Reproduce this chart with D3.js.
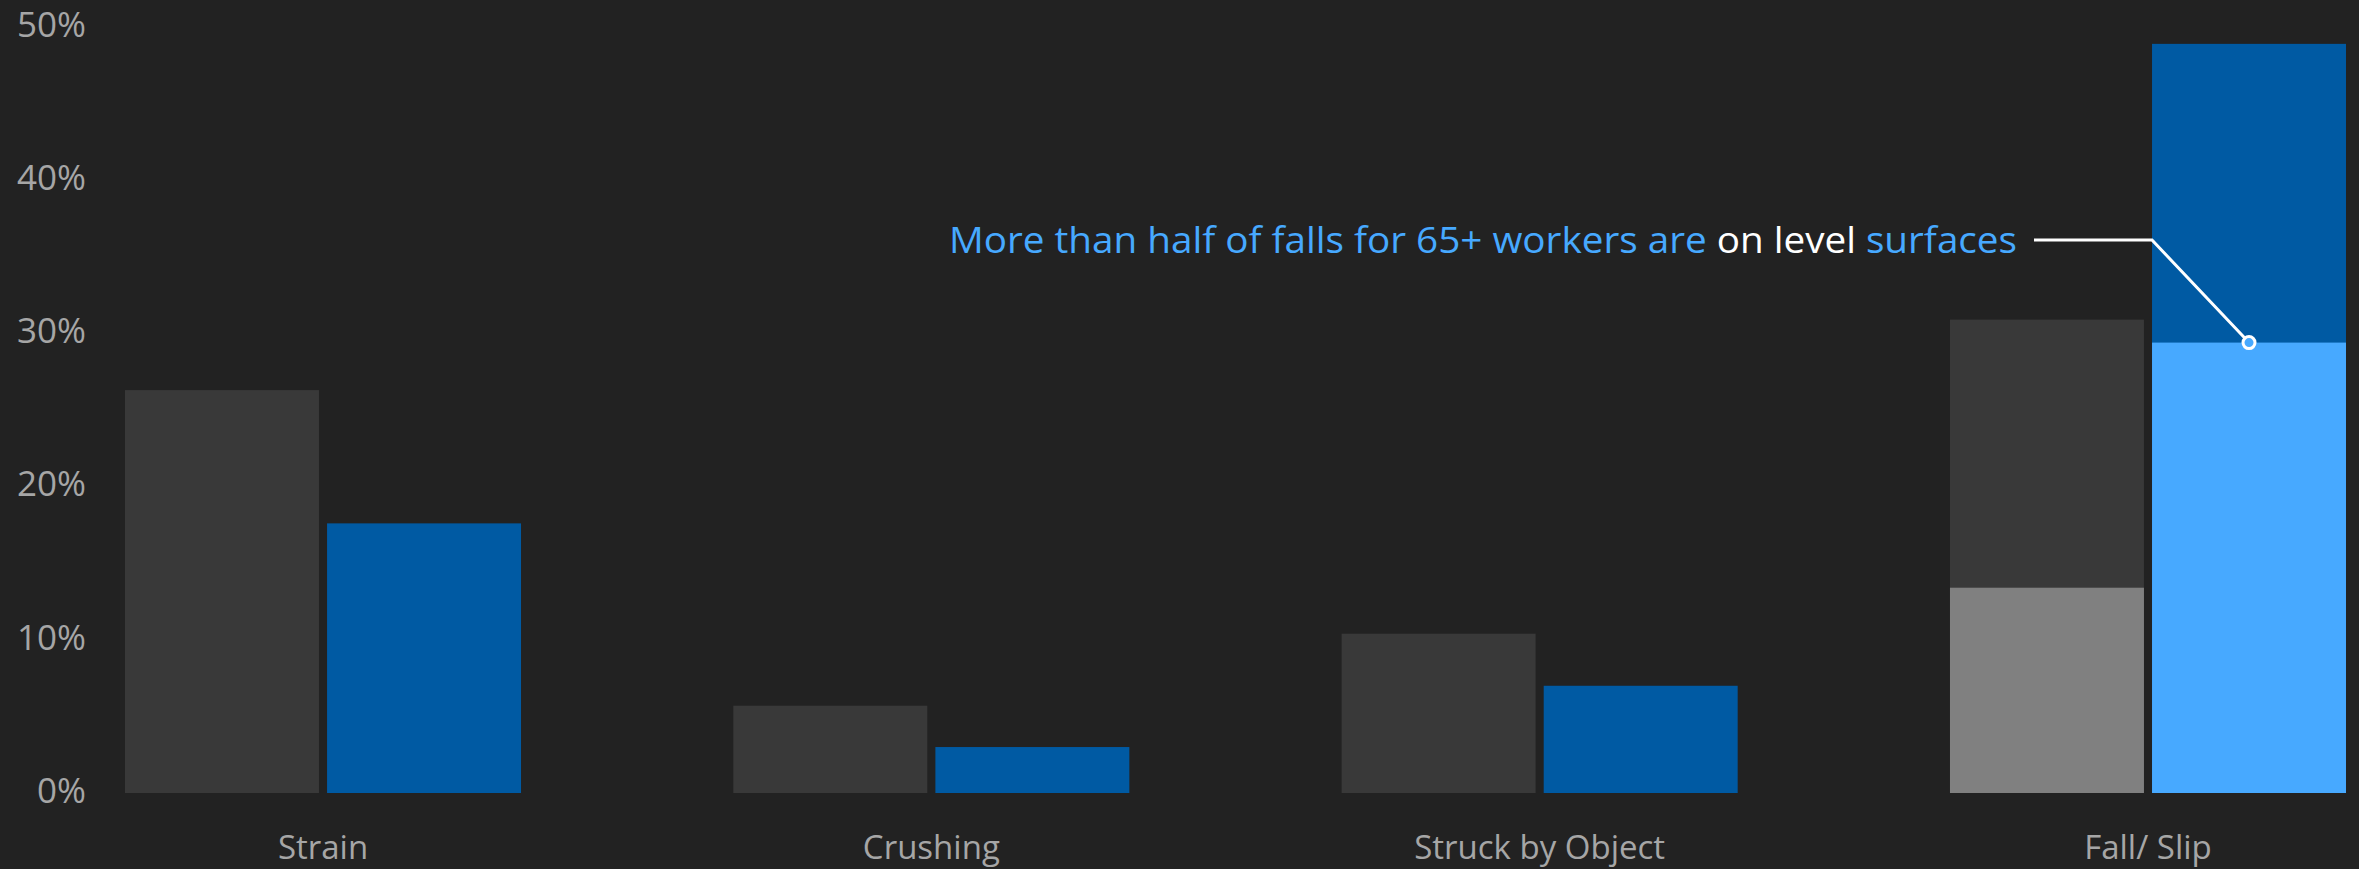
<!DOCTYPE html>
<html>
<head>
<meta charset="utf-8">
<script src="https://cdn.jsdelivr.net/npm/d3@7"></script>
<style>
  html, body { margin: 0; padding: 0; background: #222222; }
  svg { display: block; font-family: "Open Sans", sans-serif; }
</style>
</head>
<body>
<svg id="chart"></svg>
<script>
// share of injuries by type, all workers vs 65+
var categories = ["Strain", "Crushing", "Struck by Object", "Fall/ Slip"];
var groups = ["all", "older"];
var allWorkers = [26.3, 5.7, 10.4, 30.9];
var olderWorkers = [17.6, 3.0, 7.0, 48.9];
// part of the fall bar that is falls on level surfaces
var levelAll = [0, 0, 0, 13.4];
var levelOlder = [0, 0, 0, 29.4];
var yTicks = [0, 10, 20, 30, 40, 50];

var W = 2359, H = 869;
var svg = d3.select("#chart").attr("width", W).attr("height", H);

svg.append("rect").attr("width", W).attr("height", H).attr("fill", "#222222");

var x = d3.scaleBand().domain(categories).range([125, 2346]).paddingInner(0.349).paddingOuter(0);
var xi = d3.scaleBand().domain(groups).range([0, x.bandwidth()]).paddingInner(0.04);
var y = d3.scaleLinear().domain([0, 50]).range([793, 27]);

var baseColor = { all: "#393939", older: "#005aa3" };
var hiColor = { all: "#808080", older: "#47a9ff" };

var rows = categories.map(function(c, i) {
    return [
        { cat: c, g: "all", v: allWorkers[i], lv: levelAll[i] },
        { cat: c, g: "older", v: olderWorkers[i], lv: levelOlder[i] }
    ];
});

var grp = svg.selectAll("g.cat")
    .data(rows)
    .enter().append("g")
    .attr("class", "cat")
    .attr("transform", function(d) { return "translate(" + x(d[0].cat) + ",0)"; });

grp.selectAll("rect.base")
    .data(function(d) { return d; })
    .enter().append("rect")
    .attr("class", "base")
    .attr("x", function(d) { return xi(d.g); })
    .attr("y", function(d) { return y(d.v); })
    .attr("width", xi.bandwidth())
    .attr("height", function(d) { return y(0) - y(d.v); })
    .attr("fill", function(d) { return baseColor[d.g]; });

grp.selectAll("rect.hi")
    .data(function(d) { return d.filter(function(e) { return e.lv > 0; }); })
    .enter().append("rect")
    .attr("class", "hi")
    .attr("x", function(d) { return xi(d.g); })
    .attr("y", function(d) { return y(d.lv); })
    .attr("width", xi.bandwidth())
    .attr("height", function(d) { return y(0) - y(d.lv); })
    .attr("fill", function(d) { return hiColor[d.g]; });

// y axis, labels only
var yAxis = svg.append("g")
    .attr("transform", "translate(86,-2)")
    .call(d3.axisLeft(y).tickValues(yTicks).tickSize(0).tickPadding(0)
        .tickFormat(function(d) { return d + "%"; }));
yAxis.select(".domain").remove();
yAxis.selectAll("text")
    .attr("fill", "#a6a6a6")
    .style("font-size", "35px")
    .style("font-family", "'Open Sans', sans-serif");

// x axis, labels only
var xAxis = svg.append("g")
    .attr("transform", "translate(0,793)")
    .call(d3.axisBottom(x).tickSize(0).tickPadding(0));
xAxis.select(".domain").remove();
xAxis.selectAll("text")
    .attr("dy", null)
    .attr("y", 66)
    .attr("fill", "#a6a6a6")
    .style("font-size", "33px")
    .style("font-family", "'Open Sans', sans-serif");

// annotation
var fallX = x("Fall/ Slip") + xi("older") + xi.bandwidth() / 2;
var fallY = y(levelOlder[3]);

svg.append("path")
    .attr("d", "M2034,240 L2152,240 L" + fallX + "," + fallY)
    .attr("fill", "none")
    .attr("stroke", "#ffffff")
    .attr("stroke-width", 3);

svg.append("circle")
    .attr("cx", fallX)
    .attr("cy", fallY)
    .attr("r", 6)
    .attr("fill", "#47a9ff")
    .attr("stroke", "#ffffff")
    .attr("stroke-width", 3);

var note = svg.append("text")
    .attr("x", 2017)
    .attr("y", 253)
    .attr("text-anchor", "end")
    .style("font-size", "37px")
    .attr("textLength", 1068)
    .attr("lengthAdjust", "spacingAndGlyphs");
note.append("tspan").attr("fill", "#47a9ff").text("More than half of falls for 65+ workers are ");
note.append("tspan").attr("fill", "#ffffff").text("on level ");
note.append("tspan").attr("fill", "#47a9ff").text("surfaces");
</script>
</body>
</html>
